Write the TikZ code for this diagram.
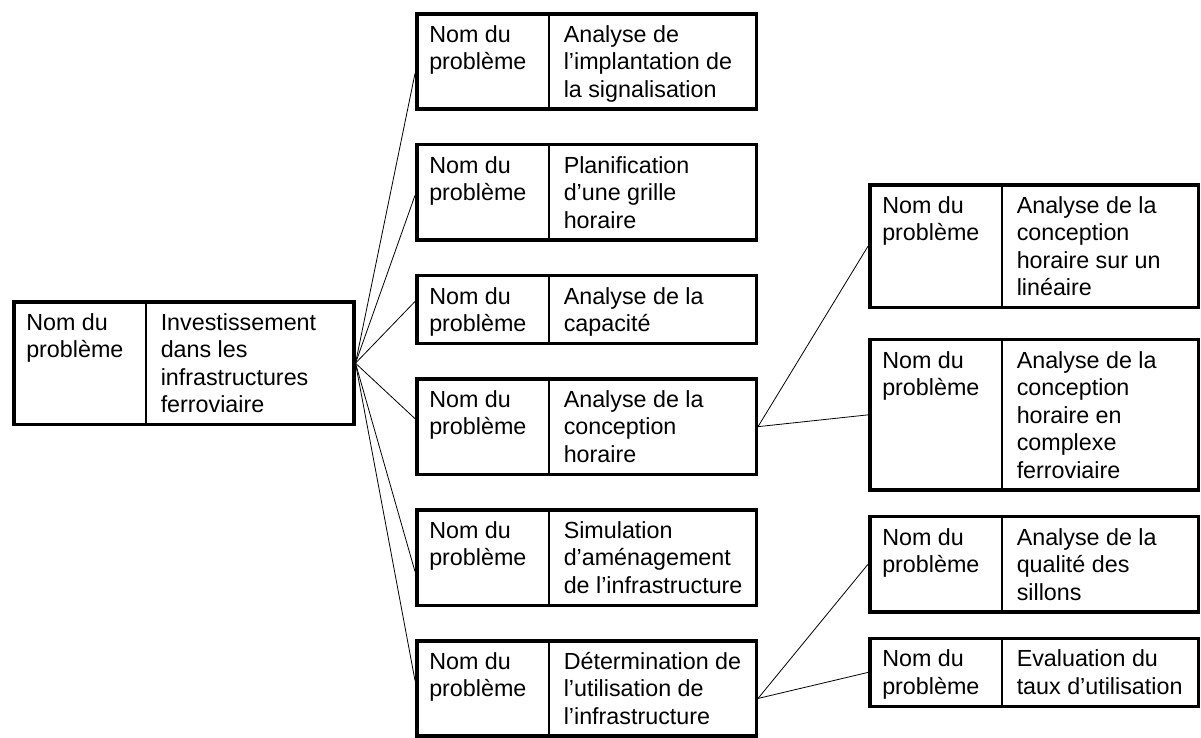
\documentclass[tikz,border=0pt]{standalone}
\usepackage{fontspec}
\usepackage{array}
\usepackage{tikz}
\usetikzlibrary{positioning}
\setmainfont{Liberation Sans}

\setlength{\arrayrulewidth}{1.5pt}
\setlength{\extrarowheight}{9.2pt}
\newcommand{\bstrut}{\vrule width 0pt height 0pt depth 11.95pt}
\newcolumntype{P}[1]{>{\raggedright\arraybackslash}p{#1}<{\bstrut}}
\newcommand{\probleme}[2]{\begin{tabular}{@{\hspace{12.5pt}}P{119pt}@{}|@{\hspace{14pt}}P{#1}@{}}Nom du\newline problème & #2\end{tabular}}

\begin{document}
\begin{tikzpicture}[
    x=1pt, y=1pt,
    node distance=32pt,
    box/.style={rectangle, draw, line width=3.5pt, inner sep=0pt, font=\fontsize{23.3pt}{27.5pt}\selectfont},
    link/.style={line width=0.8pt}
]
\useasboundingbox (0,0) rectangle (1201,-737);

\node[box, anchor=north west] (invest) at (12,-300) {\probleme{193pt}{Investissement\newline dans les\newline infrastructures\newline ferroviaire}};

\node[box, anchor=north west] (signal) at (415,-12) {\probleme{192.5pt}{Analyse de\newline l’implantation de\newline la signalisation}};
\node[box, below=of signal] (grille) {\probleme{192.5pt}{Planification\newline d’une grille\newline horaire}};
\node[box, below=of grille] (capacite) {\probleme{192.5pt}{Analyse de la\newline capacité}};
\node[box, below=of capacite] (conception) {\probleme{192.5pt}{Analyse de la\newline conception\newline horaire}};
\node[box, below=of conception] (simulation) {\probleme{192.5pt}{Simulation\newline d’aménagement\newline de l’infrastructure}};
\node[box, below=of simulation] (utilisation) {\probleme{192.5pt}{Détermination de\newline l’utilisation de\newline l’infrastructure}};

\node[box, anchor=north west] (lineaire) at (868,-183) {\probleme{181.5pt}{Analyse de la\newline conception\newline horaire sur un\newline linéaire}};
\node[box, below=28.5pt of lineaire] (complexe) {\probleme{181.5pt}{Analyse de la\newline conception\newline horaire en\newline complexe\newline ferroviaire}};
\node[box, below=23pt of complexe] (sillons) {\probleme{181.5pt}{Analyse de la\newline qualité des\newline sillons}};
\node[box, below=23pt of sillons] (taux) {\probleme{181.5pt}{Evaluation du\newline taux d’utilisation}};

% fan from the root
\draw[link] (invest.east) -- ([yshift=-12pt]signal.west);
\draw[link] (invest.east) -- ([yshift=-3pt]grille.west);
\draw[link] (invest.east) -- ([yshift=8pt]capacite.west);
\draw[link] (invest.east) -- ([yshift=8pt]conception.west);
\draw[link] (invest.east) -- ([yshift=-14pt]simulation.west);
\draw[link] (invest.east) -- ([yshift=8pt]utilisation.west);

% second level
\draw[link] (conception.east) -- (lineaire.west);
\draw[link] (conception.east) -- (complexe.west);
\draw[link] ([yshift=-10pt]utilisation.east) -- (sillons.west);
\draw[link] ([yshift=-10pt]utilisation.east) -- (taux.west);
\end{tikzpicture}
\end{document}
